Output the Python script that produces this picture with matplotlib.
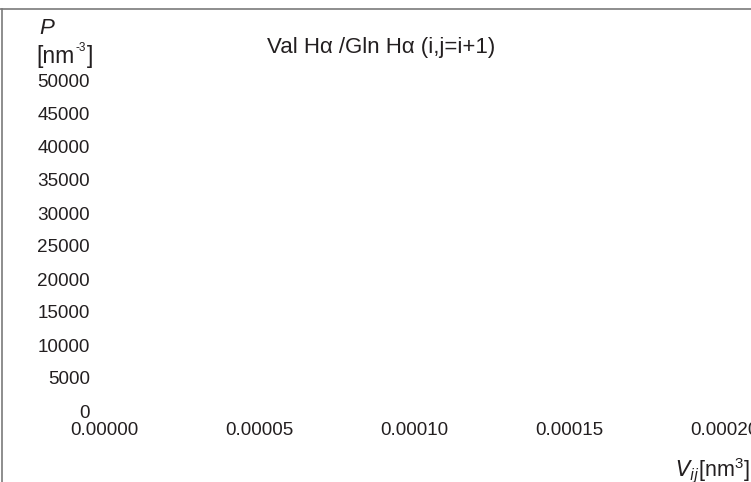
import matplotlib
matplotlib.use("Agg")
import matplotlib.pyplot as plt
from matplotlib.lines import Line2D

plt.rcParams['font.family'] = ['Liberation Sans', 'DejaVu Sans']

# Axis settings
x_ticks = [0.0, 0.00005, 0.00010, 0.00015, 0.00020]
x_tick_labels = ["0.00000", "0.00005", "0.00010", "0.00015", "0.00020"]
y_ticks = [0, 5000, 10000, 15000, 20000, 25000, 30000, 35000, 40000, 45000, 50000]
y_tick_labels = [str(v) for v in y_ticks]
x_limits = (0.0, 0.00020)
y_limits = (0, 50000)

# No data points were plotted for this pair
v_values = []
p_values = []

TEXT = "#231f20"
W, H = 751, 482

fig = plt.figure(figsize=(W / 100, H / 100), dpi=100)
ax = fig.add_axes([104 / W, (H - 411) / H, (724 - 104) / W, (411 - 81) / H])
ax.plot(v_values, p_values, color=TEXT)
ax.set_xlim(*x_limits)
ax.set_ylim(*y_limits)
ax.set_xticks(x_ticks)
ax.set_xticklabels(x_tick_labels)
ax.set_yticks(y_ticks)
ax.set_yticklabels(y_tick_labels)
for s in ax.spines.values():
    s.set_visible(False)
ax.tick_params(axis='both', length=0, labelsize=13.6, colors=TEXT)
ax.tick_params(axis='y', pad=10)
ax.tick_params(axis='x', pad=8.2)
for lbl in ax.get_xticklabels():
    lbl.set_clip_on(False)

# Title
fig.text(381 / W, 1 - 48 / H, "Val H\u03b1 /Gln H\u03b1 (i,j=i+1)",
         ha='center', va='center', fontsize=16, color=TEXT)

# Axis labels
fig.text(39 / W, 1 - 28 / H, "P", ha='left', va='center', fontsize=16,
         style='italic', color=TEXT)
fig.text(36 / W, 1 - 56 / H, "[nm", ha='left', va='center',
         fontsize=16.5, color=TEXT)
fig.text(76 / W, 1 - 48 / H, "-3", ha='left', va='center',
         fontsize=8.5, color=TEXT)
fig.text(87 / W, 1 - 56 / H, "]", ha='left', va='center',
         fontsize=16.5, color=TEXT)
fig.text(750 / W, 1 - 471 / H, r"$\mathregular{\it{V}_{\it{ij}}}$[nm$^{\mathregular{3}}$]",
         ha='right', va='center', fontsize=15.5, color=TEXT)

# Frame lines
fig.add_artist(Line2D([0, 1], [1 - 9 / H, 1 - 9 / H], transform=fig.transFigure,
                      color="#7a7a7a", lw=1.2))
fig.add_artist(Line2D([1.5 / W, 1.5 / W], [0, 1 - 9 / H], transform=fig.transFigure,
                      color="#7a7a7a", lw=1.2))

fig.savefig("out.png", dpi=100)
